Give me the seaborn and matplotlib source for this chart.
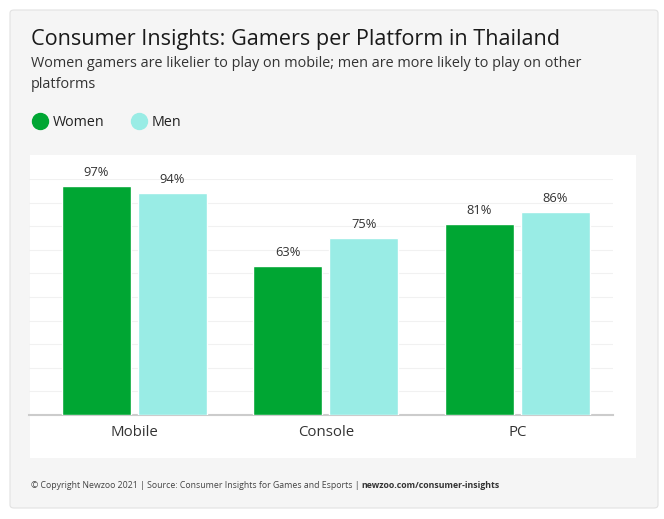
import matplotlib
matplotlib.use("Agg")
import matplotlib.pyplot as plt
from matplotlib.patches import FancyBboxPatch, Rectangle
from matplotlib.lines import Line2D
import seaborn as sns
import pandas as pd

platforms = ["Mobile", "Console", "PC"]
women = [97, 63, 81]
men = [94, 75, 86]
series_names = ["Women", "Men"]
colors = ["#00a633", "#99ece5"]

title = "Consumer Insights: Gamers per Platform in Thailand"
subtitle = "Women gamers are likelier to play on mobile; men are more likely to play on other\nplatforms"
footer = "\u00a9 Copyright Newzoo 2021 | Source: Consumer Insights for Games and Esports | "
footer_link = "newzoo.com/consumer-insights"

df = pd.DataFrame({
    "platform": platforms * 2,
    "value": women + men,
    "gender": [series_names[0]] * 3 + [series_names[1]] * 3,
})

sns.set_theme(style="white")
plt.rcParams["font.family"] = ["Open Sans", "DejaVu Sans"]

W, H = 664, 519
fig = plt.figure(figsize=(W / 100, H / 100), dpi=100)
fig.patch.set_facecolor("white")

def fx(x):
    return x / W

def fy(y):
    return 1 - y / H

# card background
card = FancyBboxPatch((fx(10), fy(508)), fx(648), (498) / H,
                      boxstyle="round,pad=0,rounding_size=0.006",
                      transform=fig.transFigure, facecolor="#f5f5f5",
                      edgecolor="#e2e2e2", linewidth=0.8, zorder=-3)
fig.patches.append(card)
panel = Rectangle((fx(30), fy(458)), fx(606), 303 / H, transform=fig.transFigure,
                  facecolor="white", edgecolor="none", zorder=-2)
fig.patches.append(panel)

ax = fig.add_axes([fx(29), fy(415), fx(584), 236 / H])
ax.set_facecolor("none")

sns.barplot(data=df, x="platform", y="value", hue="gender", palette=colors,
            width=0.794, gap=0.093, ax=ax, legend=False, saturation=1,
            zorder=3)

ax.set_ylim(0, 100)
ax.set_xlim(-0.55, 2.5)
ax.set_yticks(range(10, 101, 10))
ax.yaxis.grid(True, color="#f1f1f1", linewidth=0.8, zorder=0)
ax.set_axisbelow(True)
ax.set_yticklabels([])
ax.tick_params(axis="y", length=0)
ax.tick_params(axis="x", length=0, labelsize=10.8, labelcolor="#333333", pad=7)
ax.set_xlabel("")
ax.set_ylabel("")
for s in ["top", "right", "left"]:
    ax.spines[s].set_visible(False)
ax.spines["bottom"].set_color("#cccccc")
ax.spines["bottom"].set_linewidth(1.5)

for cont in ax.containers:
    ax.bar_label(cont, fmt="%d%%", padding=5, fontsize=9.3, color="#333333",
                 clip_on=False)

fig.text(fx(31), fy(40), title, fontsize=15.6, color="#1a1a1a",
         va="center", ha="left")
fig.text(fx(31), fy(74), subtitle, fontsize=10.4, color="#333333",
         va="center", ha="left", linespacing=1.6)

handles = [Line2D([], [], marker="o", linestyle="", markersize=11.5,
                  markerfacecolor=c, markeredgecolor=c) for c in colors]
fig.legend(handles, series_names, loc="center left",
           bbox_to_anchor=(fx(20), fy(123)), ncol=2, frameon=False,
           fontsize=10.3, handletextpad=0.4, columnspacing=1.9,
           handlelength=1.0, labelcolor="#222222")

t1 = fig.text(fx(31), fy(485), footer, fontsize=6.3, color="#444444",
              va="center", ha="left")
fig.canvas.draw()
bb = t1.get_window_extent()
fig.text(bb.x1 / W, fy(485), footer_link, fontsize=6.3, color="#333333",
         va="center", ha="left", fontweight="bold")

fig.savefig("out.png", dpi=100)
